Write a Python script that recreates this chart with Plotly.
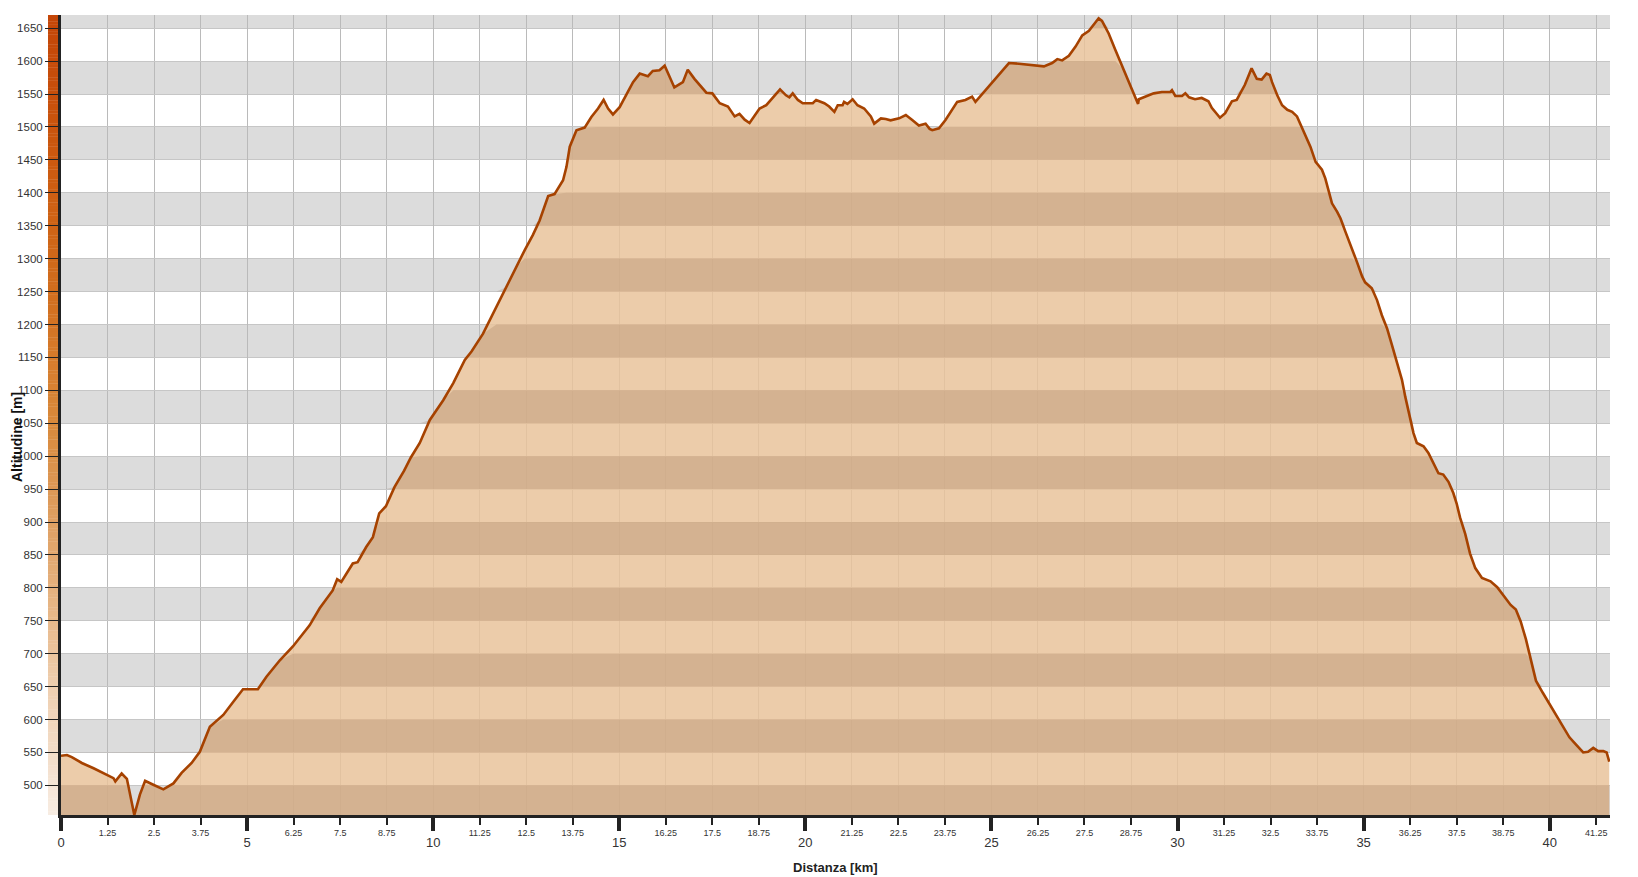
import numpy as np
import plotly.graph_objects as go

# ---------------- data ----------------
dist_km = [
    0.00, 0.16, 0.29, 0.56, 0.875, 1.41, 1.46, 1.63, 1.77, 1.97, 2.12, 2.26, 2.48, 2.75, 3.02,
    3.24, 3.51, 3.73, 4.00, 4.36, 4.63, 4.89, 5.29, 5.52, 5.88, 6.23, 6.68, 6.95, 7.30, 7.42,
    7.53, 7.84, 7.97, 8.20, 8.38, 8.55, 8.73, 8.96, 9.22, 9.40,
    9.64, 9.91, 10.27, 10.54, 10.85, 11.03, 11.34, 11.70, 11.97, 12.24, 12.46, 12.68, 12.86,
    13.09, 13.26, 13.49, 13.58, 13.67, 13.85, 14.07, 14.25, 14.43, 14.58, 14.70, 14.83, 15.01,
    15.19, 15.37, 15.55, 15.77, 15.90, 16.08, 16.22, 16.48, 16.71, 16.84, 17.02,
    17.16, 17.34, 17.50, 17.70, 17.92, 18.10, 18.23, 18.37, 18.50, 18.63, 18.77, 18.95, 19.13,
    19.32, 19.48, 19.57, 19.66, 19.80, 19.93, 20.20, 20.29, 20.51, 20.64, 20.78, 20.87, 21.00,
    21.04, 21.13, 21.27, 21.40, 21.58, 21.76, 21.85, 22.03, 22.16, 22.29, 22.52, 22.70, 22.88,
    23.05, 23.23, 23.34, 23.41, 23.59, 23.77, 23.99, 24.08, 24.30, 24.48, 24.57, 24.80, 25.02,
    25.24, 25.47,
    25.74, 26.10, 26.41, 26.63, 26.77, 26.90, 27.08, 27.26, 27.44, 27.62, 27.75, 27.88, 27.97,
    28.15, 28.33, 28.55, 28.78, 28.87, 28.94, 28.96, 29.13, 29.36, 29.58, 29.80, 29.85, 29.94,
    30.12, 30.21, 30.31, 30.47, 30.65, 30.83, 30.92, 31.05, 31.14, 31.28, 31.46, 31.59, 31.81,
    31.99, 32.13, 32.26, 32.39, 32.48,
    32.54, 32.68, 32.81, 32.95, 33.08, 33.21, 33.30, 33.44, 33.57, 33.71, 33.88, 33.97, 34.06,
    34.15, 34.29, 34.38, 34.51, 34.69, 34.82, 34.96, 35.04, 35.22, 35.36, 35.49, 35.63, 35.76,
    35.89, 36.03, 36.12, 36.25, 36.34, 36.43, 36.61, 36.74, 36.88, 37.01, 37.14, 37.28, 37.41,
    37.50,
    37.59, 37.73, 37.86, 38.00, 38.18, 38.41, 38.59, 38.77, 38.95, 39.09, 39.22, 39.36, 39.49,
    39.63, 39.81, 39.99, 40.17, 40.35, 40.53, 40.72, 40.90, 41.03, 41.17, 41.30, 41.44, 41.53,
    41.60,
]
alt_m = [
    545, 546, 543, 534, 526, 511, 506, 518, 510, 455, 486, 507, 501, 494, 503,
    519, 534, 551, 589, 607, 627, 646, 646, 665, 690, 711, 743, 769, 796, 813,
    809, 837, 839, 862, 877, 913, 924, 953, 978, 998,
    1020, 1055, 1085, 1111, 1146, 1159, 1186, 1227, 1257, 1288, 1313, 1336, 1358,
    1395, 1398, 1419, 1439, 1470, 1495, 1499, 1515, 1528, 1541, 1528, 1519, 1530,
    1550, 1568, 1581, 1577, 1585, 1586, 1593, 1560, 1568, 1587, 1573,
    1563, 1552, 1551, 1536, 1531, 1516, 1520, 1511, 1506, 1517, 1528, 1533, 1545,
    1557, 1548, 1545, 1551, 1541, 1536, 1536, 1541, 1536, 1531, 1523, 1533, 1533,
    1538, 1535, 1542, 1533, 1528, 1516, 1505, 1513, 1512, 1510, 1513, 1518, 1510,
    1502, 1505, 1497, 1495, 1498, 1511, 1531, 1538, 1541, 1546, 1538, 1553, 1568,
    1583, 1597,
    1596, 1594, 1592, 1597, 1603, 1601, 1608, 1622, 1639, 1646, 1656, 1665, 1661,
    1642, 1617, 1587, 1557, 1545, 1535, 1542, 1546, 1551, 1553, 1553, 1556, 1547,
    1547, 1551, 1545, 1542, 1544, 1539, 1529, 1519, 1514, 1521, 1539, 1541, 1564,
    1589, 1573, 1572, 1581, 1579,
    1568, 1548, 1533, 1526, 1523, 1516, 1505, 1488, 1470, 1447, 1435, 1422, 1404,
    1384, 1371, 1361, 1341, 1316, 1295, 1273, 1264, 1255, 1237, 1214, 1194, 1169,
    1144, 1116, 1090, 1060, 1035, 1020, 1015, 1005, 989, 974, 972, 961, 944,
    928,
    907, 882, 852, 830, 815, 810, 801, 787, 774, 767, 749, 722, 691,
    659, 641, 624, 609, 591, 573, 561, 550, 551, 557, 552, 552, 550,
    536,
]

x_range = [0, 41.62]
y_range = [455, 1670]
y_ticks = list(range(500, 1651, 50))
x_minor_ticks = [1.25, 2.5, 3.75, 6.25, 7.5, 8.75, 11.25, 12.5, 13.75, 16.25, 17.5, 18.75,
                 21.25, 22.5, 23.75, 26.25, 27.5, 28.75, 31.25, 32.5, 33.75, 36.25, 37.5,
                 38.75, 41.25]
x_major_ticks = [0, 5, 10, 15, 20, 25, 30, 35, 40]
band_lows = list(range(450, 1651, 100))   # gray bands [lo, lo+50]

x_title = "Distanza [km]"
y_title = "Altitudine [m]"

# ---------------- styles ----------------
FONT = "Liberation Sans"
LINE_COLOR = "#a64200"
FILL_COLOR = "rgba(233,195,155,0.85)"
DARK_BAND = "rgba(120,80,50,0.17)"
GRAY_BAND = "#dcdcdc"
GRID = "#bababa"
AXIS = "#222222"

# page body has an 8px margin: shrink figure so the plot lands where the reference has it
W, H = 1630, 869
ML, MR, MT, MB = 53, 28, 7, 62

x = np.array(dist_km, dtype=float)
y = np.array(alt_m, dtype=float)

fig = go.Figure()

# light fill under the profile
fig.add_trace(go.Scatter(x=x, y=y, mode="lines", fill="tozeroy", fillcolor=FILL_COLOR,
                         line=dict(width=0), hoverinfo="skip", showlegend=False))

# darker bands inside the filled area (area under profile clipped to each gray band)
for lo in band_lows:
    hi = lo + 50
    if y.max() <= lo:
        continue
    yc = np.clip(y, lo, hi)
    px = np.concatenate([x, x[::-1]])
    py = np.concatenate([yc, np.full_like(x, lo)])
    fig.add_trace(go.Scatter(x=px, y=py, mode="lines", fill="toself", fillcolor=DARK_BAND,
                             line=dict(width=0), hoverinfo="skip", showlegend=False))

# profile line (on overlaid axis x2, same range)
fig.add_trace(go.Scatter(x=x, y=y, mode="lines", line=dict(color=LINE_COLOR, width=2.6),
                         xaxis="x2", hoverinfo="skip", showlegend=False))

shapes = []
# gray horizontal bands
for lo in band_lows:
    shapes.append(dict(type="rect", xref="x", yref="y", x0=x_range[0], x1=x_range[1],
                       y0=lo, y1=lo + 50, fillcolor=GRAY_BAND, line=dict(width=0),
                       layer="below"))

# altitude colour bar on the left side of the y axis
anchors_alt = [455, 550, 650, 750, 850, 950, 1050, 1150, 1250, 1350, 1450, 1550, 1670]
anchors_rgb = [(248, 237, 227), (243, 221, 200), (239, 207, 176), (232, 186, 140),
               (226, 168, 112), (221, 152, 86), (217, 138, 60), (214, 124, 44),
               (210, 110, 30), (207, 100, 22), (204, 90, 16), (200, 80, 12), (196, 70, 8)]
plot_w = W - ML - MR
bx0 = -13 / plot_w
bx1 = -2.5 / plot_w
edges = np.arange(y_range[0], y_range[1] + 0.1, 5.0)
for a0, a1 in zip(edges[:-1], edges[1:]):
    mid = (a0 + a1) / 2
    r = np.interp(mid, anchors_alt, [c[0] for c in anchors_rgb])
    g = np.interp(mid, anchors_alt, [c[1] for c in anchors_rgb])
    b = np.interp(mid, anchors_alt, [c[2] for c in anchors_rgb])
    shapes.append(dict(type="rect", xref="paper", yref="y", x0=bx0, x1=bx1, y0=a0, y1=a1 + 0.5,
                       fillcolor=f"rgb({int(r)},{int(g)},{int(b)})", line=dict(width=0),
                       layer="below"))

plot_h = H - MT - MB
fig.update_layout(
    width=W, height=H,
    margin=dict(l=ML, r=MR, t=MT, b=MB),
    paper_bgcolor="white", plot_bgcolor="white",
    font=dict(family=FONT, color="#222222"),
    shapes=shapes,
    xaxis=dict(range=x_range, tickmode="array", tickvals=x_minor_ticks,
               ticktext=[f"{v:g}" for v in x_minor_ticks],
               tickfont=dict(size=9, color="#333333", family=FONT),
               ticks="outside", ticklen=7, tickwidth=2, tickcolor=AXIS,
               showgrid=True, gridcolor=GRID, gridwidth=1,
               showline=True, linecolor=AXIS, linewidth=3, zeroline=False,
               fixedrange=True),
    xaxis2=dict(range=x_range, overlaying="x", anchor="y", side="bottom",
                tickmode="array", tickvals=x_major_ticks,
                ticktext=[str(v) for v in x_major_ticks],
                tickfont=dict(size=13, color="#333333", family=FONT),
                ticks="outside", ticklen=15, tickwidth=4, tickcolor=AXIS,
                showgrid=True, gridcolor=GRID, gridwidth=1,
                showline=False, zeroline=False),
    yaxis=dict(range=y_range, tickmode="array", tickvals=y_ticks,
               ticktext=[str(v) for v in y_ticks],
               tickfont=dict(size=11.5, color="#333333", family=FONT),
               ticks="outside", ticklen=13, tickwidth=1, tickcolor=AXIS,
               showgrid=True, gridcolor="#c6c6c6", gridwidth=1,
               showline=True, linecolor=AXIS, linewidth=3, zeroline=False),
    annotations=[
        dict(text=f"<b>{x_title}</b>", xref="paper", yref="paper", x=0.5,
             y=-(868 - 815) / plot_h,
             xanchor="center", yanchor="middle", showarrow=False,
             font=dict(size=13, color="#222222", family=FONT)),
        dict(text=f"<b>{y_title}</b>", xref="paper", yref="paper",
             x=-(61 - 17) / plot_w, y=(815 - 437) / plot_h,
             xanchor="center", yanchor="middle", showarrow=False, textangle=-90,
             font=dict(size=14, color="#111111", family=FONT)),
    ],
)

fig.write_html("out.html")
